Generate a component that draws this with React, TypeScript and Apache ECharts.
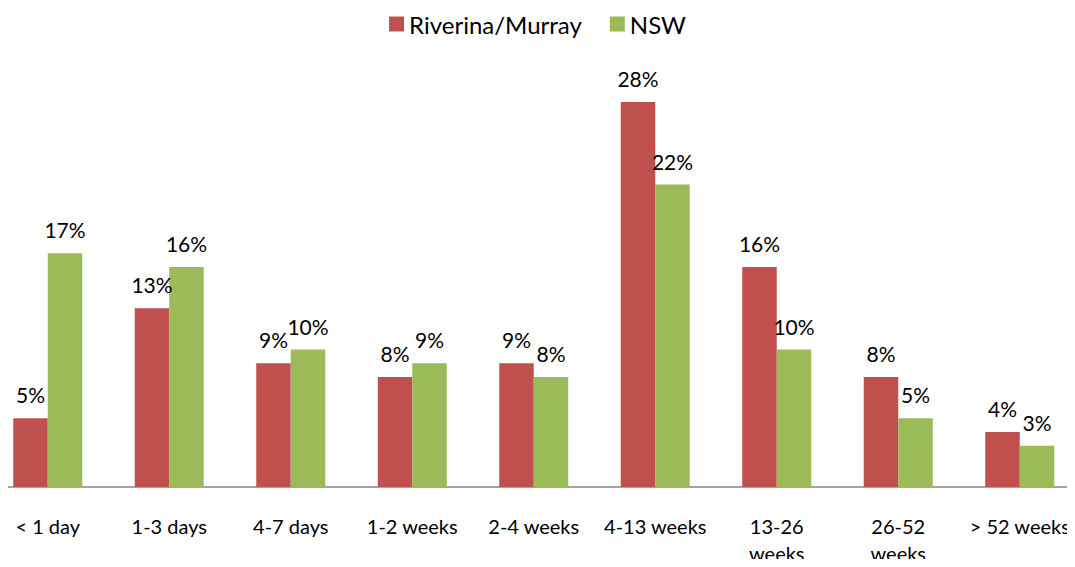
import React, { useEffect, useRef } from "react";
import * as echarts from "echarts";

const categories = ["< 1 day", "1-3 days", "4-7 days", "1-2 weeks", "2-4 weeks", "4-13 weeks", "13-26\nweeks", "26-52\nweeks", "> 52 weeks"];
const riverina = [5, 13, 9, 8, 9, 28, 16, 8, 4];
const nsw = [17, 16, 10, 9, 8, 22, 10, 5, 3];

const FONT = "Lato, 'Open Sans', sans-serif";

export default function App() {
  const ref = useRef<HTMLDivElement>(null);
  useEffect(() => {
    if (!ref.current) return;
    const chart = echarts.init(ref.current, undefined, { renderer: "svg" });
    const label = {
      show: true,
      position: "top",
      distance: 13,
      formatter: "{c}%",
      color: "#000",
      fontSize: 21,
      fontFamily: FONT,
    };
    chart.setOption({
      animation: false,
      legend: {
        top: 7,
        left: "center",
        itemWidth: 15,
        itemHeight: 15,
        itemGap: 28,
        icon: "rect",
        textStyle: { fontSize: 24, fontFamily: FONT, color: "#000" },
        data: ["Riverina/Murray", "NSW"],
      },
      grid: { left: -13, width: 1093.5, top: 74.5, height: 412.5, containLabel: false, outerBoundsMode: "none" },
      xAxis: {
        type: "category",
        data: categories,
        axisLine: { lineStyle: { color: "#868686", width: 1.5 } },
        axisTick: { show: false },
        axisLabel: { margin: 25, fontSize: 20, fontFamily: FONT, color: "#000", lineHeight: 27, interval: 0 },
      },
      yAxis: { type: "value", min: 0, max: 30, show: false, splitLine: { show: false } },
      series: [
        { name: "Riverina/Murray", type: "bar", data: riverina, barWidth: 34.5, barGap: "0%", itemStyle: { color: "#C0504D" }, label },
        { name: "NSW", type: "bar", data: nsw, barWidth: 34.5, barGap: "0%", itemStyle: { color: "#9BBB59" }, label },
      ],
    });
    return () => chart.dispose();
  }, []);
  return <div ref={ref} style={{ width: 1075, height: 567, margin: -8, background: "#fff" }} />;
}
